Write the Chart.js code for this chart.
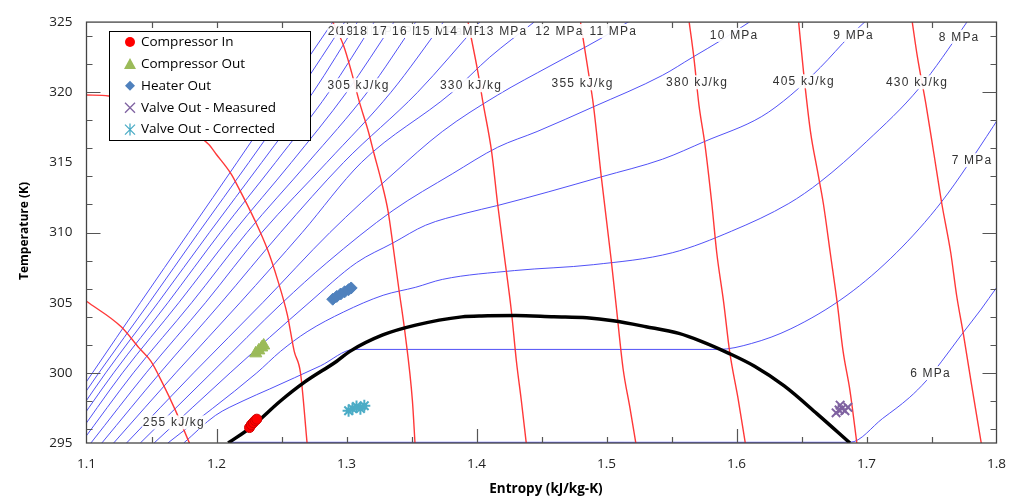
<!DOCTYPE html>
<html><head><meta charset="utf-8">
<script src="https://cdn.jsdelivr.net/npm/chart.js@4.4.1/dist/chart.umd.min.js"></script>
<style>html,body{margin:0;padding:0;background:#fff}#wrap{width:1019px;height:500px}</style>
</head><body><div id="wrap"><canvas id="c" width="1019" height="500"></canvas></div>
<script>
// ---- axis ticks ----
const xTicks = [1.1,1.2,1.3,1.4,1.5,1.6,1.7,1.8];
const yTicks = [295,300,305,310,315,320,325];

// ---- saturation dome [s, T] ----
const dome = [[1.209,295.0],[1.2267,296.14],[1.2494,298.01],[1.2672,299.30],[1.2925,300.83],[1.3026,301.53],[1.3279,302.70],[1.3532,303.40],[1.3887,303.99],[1.4039,304.06],[1.43,304.08],[1.4595,303.99],[1.4848,303.92],[1.5051,303.71],[1.5304,303.29],[1.5557,302.81],[1.5734,302.23],[1.5937,301.41],[1.6139,300.47],[1.6367,299.07],[1.6620,297.08],[1.6873,295.0]];

// ---- isobars [s, T] ----
const p20 = [[1.0677,295],[1.1046,300],[1.1414,305],[1.1786,310],[1.2158,315],[1.2526,320],[1.2894,325]];
const p19 = [[1.0723,295],[1.1095,300],[1.1482,305],[1.1862,310],[1.2249,315],[1.2629,320],[1.2986,325]];
const p18 = [[1.0776,295],[1.1148,300],[1.1550,305],[1.1945,310],[1.2348,315],[1.2743,320],[1.3084,325]];
const p17 = [[1.0829,295],[1.1209,300],[1.1626,305],[1.2029,310],[1.2454,315],[1.2864,320],[1.3213,325]];
const p16 = [[1.0890,295],[1.1277,300],[1.1710,305],[1.2128,310],[1.2576,315],[1.3001,320],[1.3365,325]];
const p15 = [[1.0958,295],[1.1361,300],[1.1809,305],[1.2234,310],[1.2705,315],[1.3160,320],[1.3532,325]];
const p14 = [[1.1034,295],[1.1459,300],[1.1915,305],[1.2348,310],[1.2849,315],[1.3342,320],[1.3745,325]];
const p13 = [[1.1118,295],[1.1566,300],[1.2036,305],[1.2492,310],[1.2978,315],[1.3547,320],[1.4026,325]];
const p12 = [[1.1209,295],[1.1687,300],[1.2181,305],[1.2659,310],[1.3115,315],[1.3813,320],[1.4102,322.5],[1.4443,325]];
const p11 = [[1.1308,295],[1.1824,300],[1.2355,305],[1.2872,310],[1.3358,314.18],[1.3737,317.20],[1.4163,319.80],[1.4573,321.91],[1.4952,323.81],[1.5165,325],[1.5241,325.42]];
const p10 = [[1.1414,295],[1.1961,300],[1.2507,305],[1.2849,307.85],[1.3358,311.58],[1.3813,314.18],[1.4163,316.08],[1.4466,317.20],[1.4899,318.96],[1.5431,321.21],[1.5658,322.47],[1.5901,323.81],[1.6099,325],[1.6175,325.42]];
const p9  = [[1.1520,295],[1.2105,300],[1.2712,305],[1.3077,307.85],[1.3358,309.26],[1.3608,310.52],[1.3912,311.37],[1.4163,311.93],[1.4557,312.91],[1.4960,313.97],[1.5431,315.23],[1.5757,316.50],[1.6190,318.25],[1.6418,319.80],[1.6645,321.77],[1.6873,324.02],[1.7010,325.21]];
const p8  = [[1.1626,295],[1.2310,300],[1.2492,301.53],[1.2697,302.93],[1.2978,304.34],[1.3282,305.53],[1.3532,306.10],[1.3737,306.66],[1.4292,307.29],[1.4899,307.71],[1.5506,308.56],[1.5962,310.10],[1.6402,312.07],[1.6645,313.62],[1.7002,316.50],[1.7405,320.29],[1.7762,324.86],[1.7792,325.28]];
const p7  = [[1.1748,295],[1.1991,296.96],[1.2204,298.0],[1.2409,298.85],[1.2600,299.65],[1.2800,300.5],[1.3060,301.67],[1.5863,301.67],[1.6114,302.09],[1.6418,303.14],[1.6850,305.53],[1.7230,308.56],[1.7579,312.21],[1.7974,317.55],[1.8012,318.10]];
const p6  = [[1.209,295.05],[1.6873,295.05],[1.7124,296.75],[1.7329,298.23],[1.7458,299.42],[1.7579,300.83],[1.7731,302.72],[1.7883,304.55],[1.7997,306.03],[1.8027,306.38]];

// ---- isenthalps [s, T] ----
const h255 = [[1.1000,305.1],[1.1267,303.28],[1.1406,301.76],[1.1495,300.83],[1.1583,299.30],[1.1685,297.31],[1.1793,294.97]];
const h280 = [[1.1000,319.80],[1.1171,319.73],[1.1558,318.53],[1.1786,317.34],[1.1939,316.29],[1.1998,315.58],[1.2112,314.18],[1.2166,313.26],[1.2295,310.87],[1.2393,308.77],[1.2469,306.66],[1.2545,304.13],[1.2598,301.53],[1.2646,300.0],[1.2697,294.97]];
const h305 = [[1.2895,325.0],[1.2978,323.31],[1.3039,321.42],[1.3099,319.31],[1.3168,317.20],[1.3213,315.58],[1.3267,313.69],[1.3320,311.51],[1.3358,309.05],[1.3403,305.96],[1.3449,302.93],[1.3507,298.01],[1.3527,294.97]];
const h330 = [[1.3935,325.0],[1.4011,321.42],[1.4049,319.31],[1.4117,315.72],[1.4162,312.07],[1.4216,308.20],[1.4269,304.34],[1.4307,300.83],[1.4345,298.01],[1.4383,294.97]];
const h355 = [[1.4800,325.0],[1.4861,321.42],[1.4899,319.10],[1.4960,313.97],[1.5036,308.06],[1.5074,304.83],[1.5127,300.33],[1.5180,297.52],[1.5226,294.97]];
const h380 = [[1.5636,325.0],[1.5673,322.40],[1.5711,319.10],[1.5757,316.29],[1.5810,312.07],[1.5848,308.56],[1.5901,305.04],[1.5947,301.53],[1.6015,298.01],[1.6068,294.97]];
const h405 = [[1.6478,325.0],[1.6516,321.42],[1.6569,317.20],[1.6623,314.39],[1.6668,312.07],[1.6721,308.56],[1.6774,305.04],[1.6820,301.53],[1.6873,298.72],[1.6926,294.97]];
const h430 = [[1.7352,325.0],[1.7390,322.61],[1.7458,319.10],[1.7519,315.58],[1.7579,312.07],[1.7648,308.56],[1.7693,305.53],[1.7746,302.72],[1.7807,299.21],[1.7883,294.97]];

// ---- measured states [s, T] ----
const seriesNames = ['Compressor In','Compressor Out','Heater Out','Valve Out - Measured','Valve Out - Corrected'];
const compIn    = [[1.2254,296.10],[1.2268,296.30],[1.2283,296.45],[1.2298,296.60],[1.2310,296.70]];
const compOut   = [[1.2302,301.39],[1.2325,301.60],[1.2348,301.81],[1.2363,301.95]];
const heaterOut = [[1.2894,305.25],[1.2925,305.45],[1.2955,305.62],[1.2986,305.78],[1.3016,305.93],[1.3036,306.05]];
const valveMeas = [[1.6766,297.15],[1.6789,297.35],[1.6812,297.45],[1.6834,297.30],[1.6857,297.55],[1.6797,297.70]];
const valveCorr = [[1.3016,297.30],[1.3046,297.45],[1.3077,297.60],[1.3107,297.45],[1.3137,297.65]];

// ---- line labels ----
const pLabelText = ['20 MPa','19 MPa','18 MPa','17 MPa','16 MPa','15 MPa','14 MPa','13 MPa','12 MPa','11 MPa','10 MPa','9 MPa','8 MPa','7 MPa','6 MPa'];
const pLabelAt = [[1.2856,324.37],[1.2940,324.37],[1.3046,324.37],[1.3198,324.37],[1.3350,324.37],[1.3525,324.37],[1.3737,324.37],[1.4018,324.37],[1.4451,324.37],[1.4869,324.37],[1.5795,324.09],[1.6744,324.09],[1.7556,323.95],[1.7655,315.16],[1.7336,299.98]];
const hLabelText = ['255 kJ/kg','305 kJ/kg','330 kJ/kg','355 kJ/kg','380 kJ/kg','405 kJ/kg','430 kJ/kg'];
const hLabelAt = [[1.1672,296.47],[1.3092,320.50],[1.3958,320.50],[1.4816,320.64],[1.5697,320.71],[1.6518,320.78],[1.7389,320.71]];

const toXY = a => a.map(p => ({x:p[0], y:p[1]}));
const BLUE = 'rgba(72,72,245,0.95)', RED = 'rgba(255,45,45,0.95)';
const line = (d, c, w) => ({data:toXY(d), showLine:true, borderColor:c, backgroundColor:c, borderWidth:w, pointRadius:0, pointHoverRadius:0, cubicInterpolationMode:'monotone', fill:false});
const marks = (d, style, r, bg, bc, bw) => ({data:toXY(d), showLine:false, pointStyle:style, pointRadius:r, pointBackgroundColor:bg, pointBorderColor:bc, pointBorderWidth:bw});

const datasets = [
  marks(compIn,'circle',5,'#ff0000','#d00000',1),
  marks(compOut,'triangle',7,'#9bbb59','#9bbb59',1),
  marks(heaterOut,'rectRot',6,'#4f81bd','#4f81bd',1),
  marks(valveMeas,'crossRot',6,'#7f62a1','#7f62a1',2),
  marks(valveCorr,'star',6,'#4bacc6','#4bacc6',2),
  line(dome,'#000',3.5),
  ...[h255,h280,h305,h330,h355,h380,h405,h430].map(h => line(h, RED, 1.4)),
  ...[p20,p19,p18,p17,p16,p15,p14,p13,p12,p11,p10,p9,p8,p7,p6].map(p => line(p, BLUE, 1))
];

function drawMarker(ctx, k, cx, cy){
  ctx.save();
  if (k===0){ ctx.fillStyle='#ff0000'; ctx.beginPath(); ctx.arc(cx,cy,5,0,Math.PI*2); ctx.fill(); }
  else if (k===1){ ctx.fillStyle='#9bbb59'; ctx.beginPath(); ctx.moveTo(cx,cy-6); ctx.lineTo(cx+6,cy+5); ctx.lineTo(cx-6,cy+5); ctx.closePath(); ctx.fill(); }
  else if (k===2){ ctx.fillStyle='#4f81bd'; ctx.beginPath(); ctx.moveTo(cx,cy-5); ctx.lineTo(cx+5,cy); ctx.lineTo(cx,cy+5); ctx.lineTo(cx-5,cy); ctx.closePath(); ctx.fill(); }
  else if (k===3){ ctx.strokeStyle='#7f62a1'; ctx.lineWidth=1.3; ctx.beginPath(); ctx.moveTo(cx-5,cy-5); ctx.lineTo(cx+5,cy+5); ctx.moveTo(cx+5,cy-5); ctx.lineTo(cx-5,cy+5); ctx.stroke(); }
  else { ctx.strokeStyle='#4bacc6'; ctx.lineWidth=1.3; ctx.beginPath(); ctx.moveTo(cx-5,cy-5); ctx.lineTo(cx+5,cy+5); ctx.moveTo(cx+5,cy-5); ctx.lineTo(cx-5,cy+5); ctx.moveTo(cx,cy-6); ctx.lineTo(cx,cy+6); ctx.stroke(); }
  ctx.restore();
}

const overlay = {
  id:'overlay',
  afterDatasetsDraw(chart){
    const {ctx, chartArea:a, scales:{x, y}} = chart;
    ctx.save();
    // frame
    ctx.strokeStyle='#444'; ctx.lineWidth=1.3;
    ctx.strokeRect(a.left, a.top, a.right-a.left, a.bottom-a.top);
    // inward tick marks
    ctx.strokeStyle='#555'; ctx.lineWidth=1.2; ctx.beginPath();
    for (let T=296; T<=324; T+=2){
      const py = Math.round(y.getPixelForValue(T))+0.5, len = (T%10===0)?14:6;
      ctx.moveTo(a.left,py); ctx.lineTo(a.left+len,py);
      ctx.moveTo(a.right,py); ctx.lineTo(a.right-len,py);
    }
    for (let k=1; k<=13; k++){
      const s = 1.1+0.05*k, px = Math.round(x.getPixelForValue(s))+0.5;
      const len = (k===2||k===6||k===10)?14:6;
      ctx.moveTo(px,a.bottom); ctx.lineTo(px,a.bottom-len);
      ctx.moveTo(px,a.top); ctx.lineTo(px,a.top+6);
    }
    ctx.stroke();
    // line labels
    ctx.font='12px "Liberation Sans", Arial, sans-serif';
    try { ctx.letterSpacing='1.2px'; } catch(e){}
    ctx.textBaseline='middle';
    const lab = (txt, px, py, align) => {
      const w = ctx.measureText(txt).width;
      const left = align==='center' ? px-w/2 : px;
      ctx.fillStyle='rgba(255,255,255,0.92)'; ctx.fillRect(left-0.5, py-7, w+1, 14);
      ctx.fillStyle='#333'; ctx.textAlign='left'; ctx.fillText(txt, left, py+0.5);
    };
    pLabelText.forEach((t,i) => lab(t, x.getPixelForValue(pLabelAt[i][0]), y.getPixelForValue(pLabelAt[i][1]), 'left'));
    hLabelText.forEach((t,i) => lab(t, x.getPixelForValue(hLabelAt[i][0]), y.getPixelForValue(hLabelAt[i][1]), 'center'));
    try { ctx.letterSpacing='0px'; } catch(e){}
    ctx.restore();
  },
  afterDraw(chart){
    const ctx = chart.ctx;
    ctx.save();
    // legend box
    const lx=109, ly=31, lw=201, lh=109;
    ctx.fillStyle='#fff'; ctx.fillRect(lx,ly,lw,lh);
    ctx.strokeStyle='#000'; ctx.lineWidth=1; ctx.strokeRect(lx+0.5,ly+0.5,lw,lh);
    ctx.font='13.5px "Open Sans", sans-serif'; ctx.fillStyle='#000'; ctx.textBaseline='middle'; ctx.textAlign='left';
    seriesNames.forEach((n,k) => {
      const cy = 42 + k*21.9;
      drawMarker(ctx, k, 130, cy);
      ctx.fillStyle='#000'; ctx.fillText(n, 141, cy);
    });
    // axis titles
    ctx.fillStyle='#000'; ctx.textAlign='center';
    ctx.font='bold 13.5px "Open Sans", sans-serif';
    ctx.fillText('Entropy (kJ/kg-K)', 546, 489);
    ctx.translate(25, 231); ctx.rotate(-Math.PI/2);
    ctx.font='bold 12px "Open Sans", sans-serif';
    ctx.fillText('Temperature (K)', 0, 0);
    ctx.restore();
  }
};

new Chart(document.getElementById('c'), {
  type:'scatter',
  data:{datasets},
  options:{
    responsive:false, animation:false, devicePixelRatio:1, events:[],
    layout:{padding:{top:16, right:11, left:0, bottom:0}},
    plugins:{legend:{display:false}, tooltip:{enabled:false}},
    scales:{
      x:{type:'linear', min:1.1, max:1.8,
        afterBuildTicks:s => { s.ticks = xTicks.map(v => ({value:v})); },
        afterFit:s => { s.height = 57; },
        grid:{display:false, drawTicks:false}, border:{display:false},
        ticks:{padding:13, color:'#222', font:{family:'"Open Sans", sans-serif', size:13.5}, callback:v => Number(v).toFixed(1)}},
      y:{type:'linear', min:295, max:325,
        afterBuildTicks:s => { s.ticks = yTicks.map(v => ({value:v})); },
        afterFit:s => { s.width = 86.5; },
        grid:{display:false, drawTicks:false}, border:{display:false},
        ticks:{padding:14, color:'#222', font:{family:'"Open Sans", sans-serif', size:13.5}, callback:v => String(v)}}
    }
  },
  plugins:[overlay]
});
</script></body></html>
